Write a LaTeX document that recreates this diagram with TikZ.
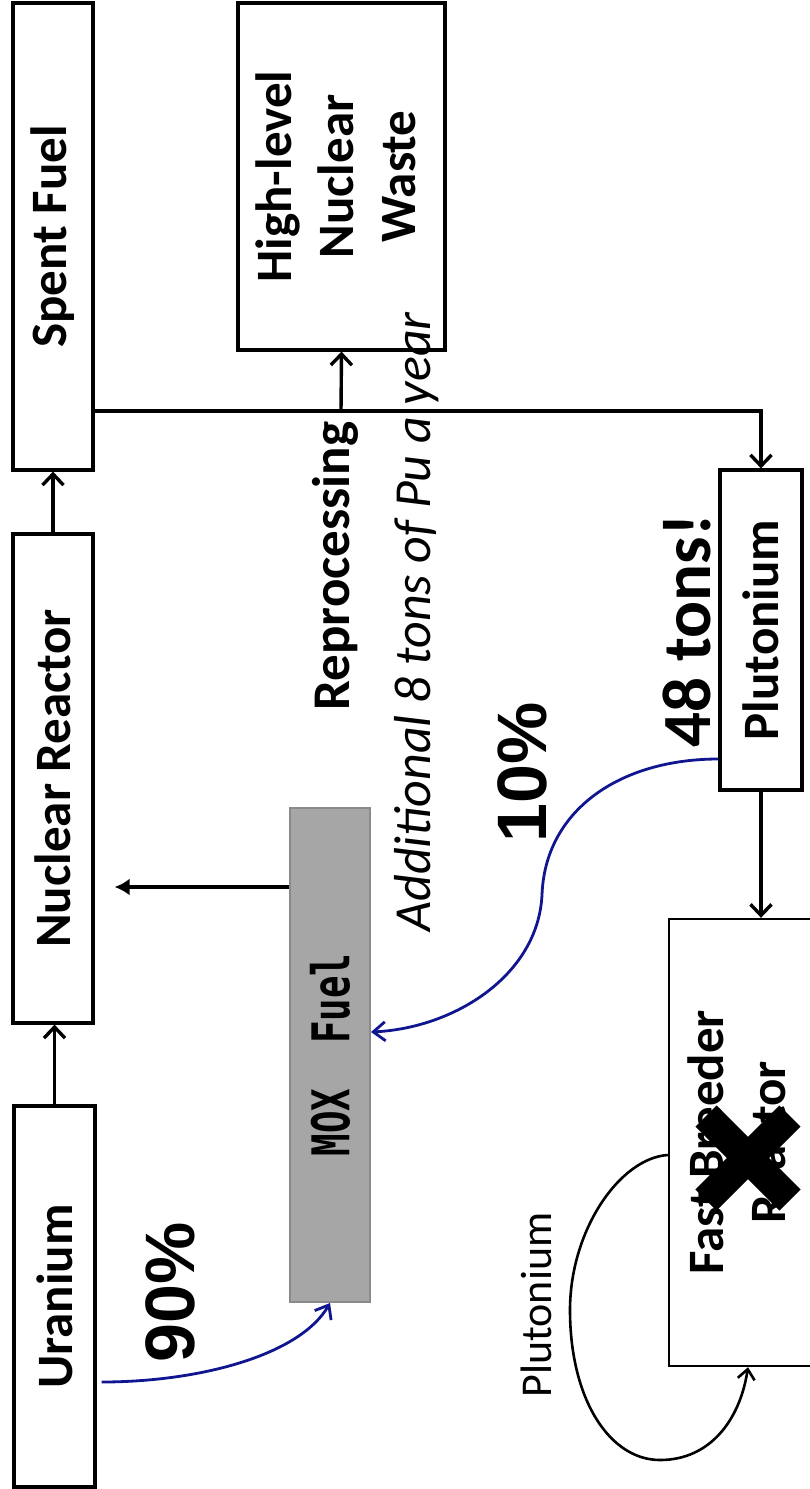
\documentclass[tikz,border=0pt]{standalone}
\usepackage{fontspec}
\setmainfont{Carlito}
\newfontfamily\pctfont{Liberation Sans}
\newfontfamily\moxfont[FakeStretch=0.72]{DejaVu Sans Mono}
\usepackage{graphicx}
\definecolor{FlowBlue}{HTML}{10168F}
\definecolor{MoxGray} {HTML}{A6A6A6}
\definecolor{MoxEdge} {HTML}{8A8A8A}
\usetikzlibrary{arrows.meta,positioning}

\begin{document}
\begin{tikzpicture}[x=1pt,y=-1pt,
  box/.style={draw,line width=3.2pt,inner sep=0pt,
    font=\bfseries\fontsize{51}{62}\selectfont},
  flow/.style={line width=3.4pt,-{Straight Barb[length=11pt,width=21pt]}},
  blueflow/.style={FlowBlue,line width=2.8pt,
    -{Straight Barb[length=12pt,width=19pt]}},
  pct/.style={rotate=90,font=\pctfont\bfseries\fontsize{70}{70}\selectfont}]
  \useasboundingbox (0,0) rectangle (809,1489);
  % Fuel chain
  \node[box,minimum width=81pt,minimum height=381pt]
    (uranium) at (54.5,1296.5) {\rotatebox{90}{Uranium}};
  \node[box,minimum width=80pt,minimum height=489pt]
    (reactor) at (53,778.5) {\rotatebox{90}{Nuclear Reactor}};
  \node[box,minimum width=80pt,minimum height=467pt]
    (spent) at (53,236.5) {\rotatebox{90}{Spent Fuel}};
  \node[box,minimum width=207pt,minimum height=347pt]
    (waste) at (341.5,176.5)
    {\rotatebox{90}{\begin{tabular}{@{}c@{}}High-level\\Nuclear\\Waste\end{tabular}}};
  \node[box,minimum width=82pt,minimum height=320pt]
    (pu) at (761,630) {\rotatebox{90}{Plutonium}};
  \node[box,line width=2.4pt,minimum width=146pt,minimum height=447pt]
    (fbr) at (742,1142.5)
    {\rotatebox{90}{\begin{tabular}{@{}c@{}}Fast Breeder\\Reactor\end{tabular}}};
  \node[draw=MoxEdge,fill=MoxGray,line width=2pt,inner sep=0pt,
    minimum width=80pt,minimum height=494pt,
    font=\moxfont\bfseries\fontsize{52}{52}\selectfont]
    (mox) at (330,1055) {\rotatebox{90}{MOX\ \ Fuel}};
  % Labels
  \node[rotate=90,font=\bfseries\fontsize{53}{53}\selectfont]
    (reproc) at (335,566) {Reprocessing};
  \node[rotate=90,font=\itshape\fontsize{52}{52}\selectfont]
    (extra) at (417,622) {Additional 8 tons of Pu a year};
  \node[pct] (ninety) at (170,1292) {90\%};
  \node[pct] (ten) at (522,772) {10\%};
  \node[rotate=90,font=\bfseries\fontsize{69}{69}\selectfont]
    (stock) at (687,631) {48 tons!};
  \node[rotate=90,font=\fontsize{44}{44}\selectfont]
    (loop) at (536,1305) {Plutonium};
  % Arrows
  \draw[flow] (uranium.north) -- (uranium.north |- reactor.south);
  \draw[flow] (reactor.north) -- (reactor.north |- spent.south);
  \coordinate (split) at (341,411);
  \draw[line width=3.4pt] (spent.east |- split) -- (split);
  \draw[flow] (split) -- (waste.south);
  \draw[flow] (split) -| (pu.north);
  \draw[flow] (pu.south) -- (pu.south |- fbr.north);
  \coordinate (moxout) at ([yshift=168pt]mox.west);
  \draw[line width=3.4pt,-{Latex[length=15pt,width=17pt]},shorten >=20pt]
    (moxout) -- (moxout -| reactor.east);
  \coordinate (uout) at ([xshift=5pt,yshift=-85.5pt]uranium.east);
  \draw[blueflow] (uout) .. controls (200,1382) and (300,1355) .. (mox.south);
  \draw[blueflow] (pu.west |- 0,759) .. controls (620,759) and (545,810) .. (542,895)
    .. controls (538,975) and (455,1028) .. (mox.east |- 0,1032);
  \draw[line width=2.6pt,-{Straight Barb[length=10pt,width=17pt]}]
    ([yshift=-12.5pt]fbr.west) .. controls (620,1158) and (570,1230) .. (570,1310)
    .. controls (570,1400) and (610,1460) .. (660,1460)
    .. controls (710,1460) and (740,1420) .. ([xshift=6pt]fbr.south);
  % Cross over the breeder
  \draw[line width=30pt] (706,1116) -- (790,1200) (790,1116) -- (706,1200);
\end{tikzpicture}
\end{document}
